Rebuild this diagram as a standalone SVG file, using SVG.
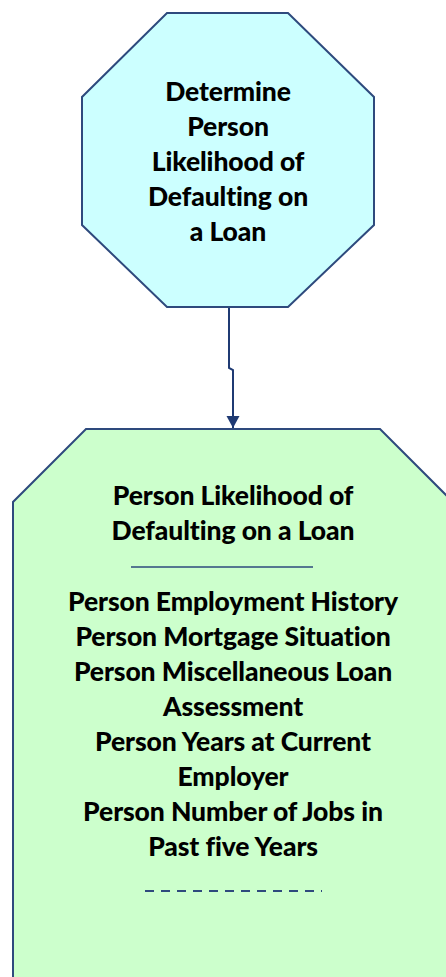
<svg xmlns="http://www.w3.org/2000/svg" width="446" height="977" viewBox="0 0 446 977">
<style>
.t{font-family:Lato,"Liberation Sans",sans-serif;font-weight:900;font-size:26.5px;fill:#000;text-anchor:middle;letter-spacing:-0.1px}
.n{stroke:#2E4A7D;stroke-width:2}
</style>
<defs>
<marker id="ah" markerWidth="14" markerHeight="14" refX="12" refY="7" orient="auto" markerUnits="userSpaceOnUse" viewBox="0 0 14 14">
<path d="M0,0.5 L12,7 L0,13.5 z" fill="#1F3A73"/>
</marker>
</defs>
<rect width="446" height="977" fill="#fff"/>
<g id="n1">
<polygon class="n" fill="#CCFFFF" points="167,13 288,13 374,97 374,225 288,307 167,307 82,225 82,97"/>
<text class="t" x="228" y="101">Determine</text>
<text class="t" x="228" y="136">Person</text>
<text class="t" x="228" y="171">Likelihood of</text>
<text class="t" x="228" y="206">Defaulting on</text>
<text class="t" x="228" y="241">a Loan</text>
</g>
<g id="n2">
<polygon class="n" fill="#CCFFCC" points="86,429 380,429 453,502 453,990 13,990 13,502"/>
<text class="t" x="233" y="505">Person Likelihood of</text>
<text class="t" x="233" y="540">Defaulting on a Loan</text>
<line x1="131" y1="567" x2="313" y2="567" stroke="#2E4A7D" stroke-width="1.5"/>
<text class="t" x="233" y="611">Person Employment History</text>
<text class="t" x="233" y="646">Person Mortgage Situation</text>
<text class="t" x="233" y="681">Person Miscellaneous Loan</text>
<text class="t" x="233" y="716">Assessment</text>
<text class="t" x="233" y="751">Person Years at Current</text>
<text class="t" x="233" y="786">Employer</text>
<text class="t" x="233" y="821">Person Number of Jobs in</text>
<text class="t" x="233" y="856">Past five Years</text>
<line x1="145" y1="891" x2="322" y2="891" stroke="#2E4A7D" stroke-width="2" stroke-dasharray="9,7"/>
</g>
<g id="connectors">
<polyline fill="none" stroke="#1F3A73" stroke-width="2" points="229,308 229,368 233,370 233,428" marker-end="url(#ah)"/>
</g>
</svg>
